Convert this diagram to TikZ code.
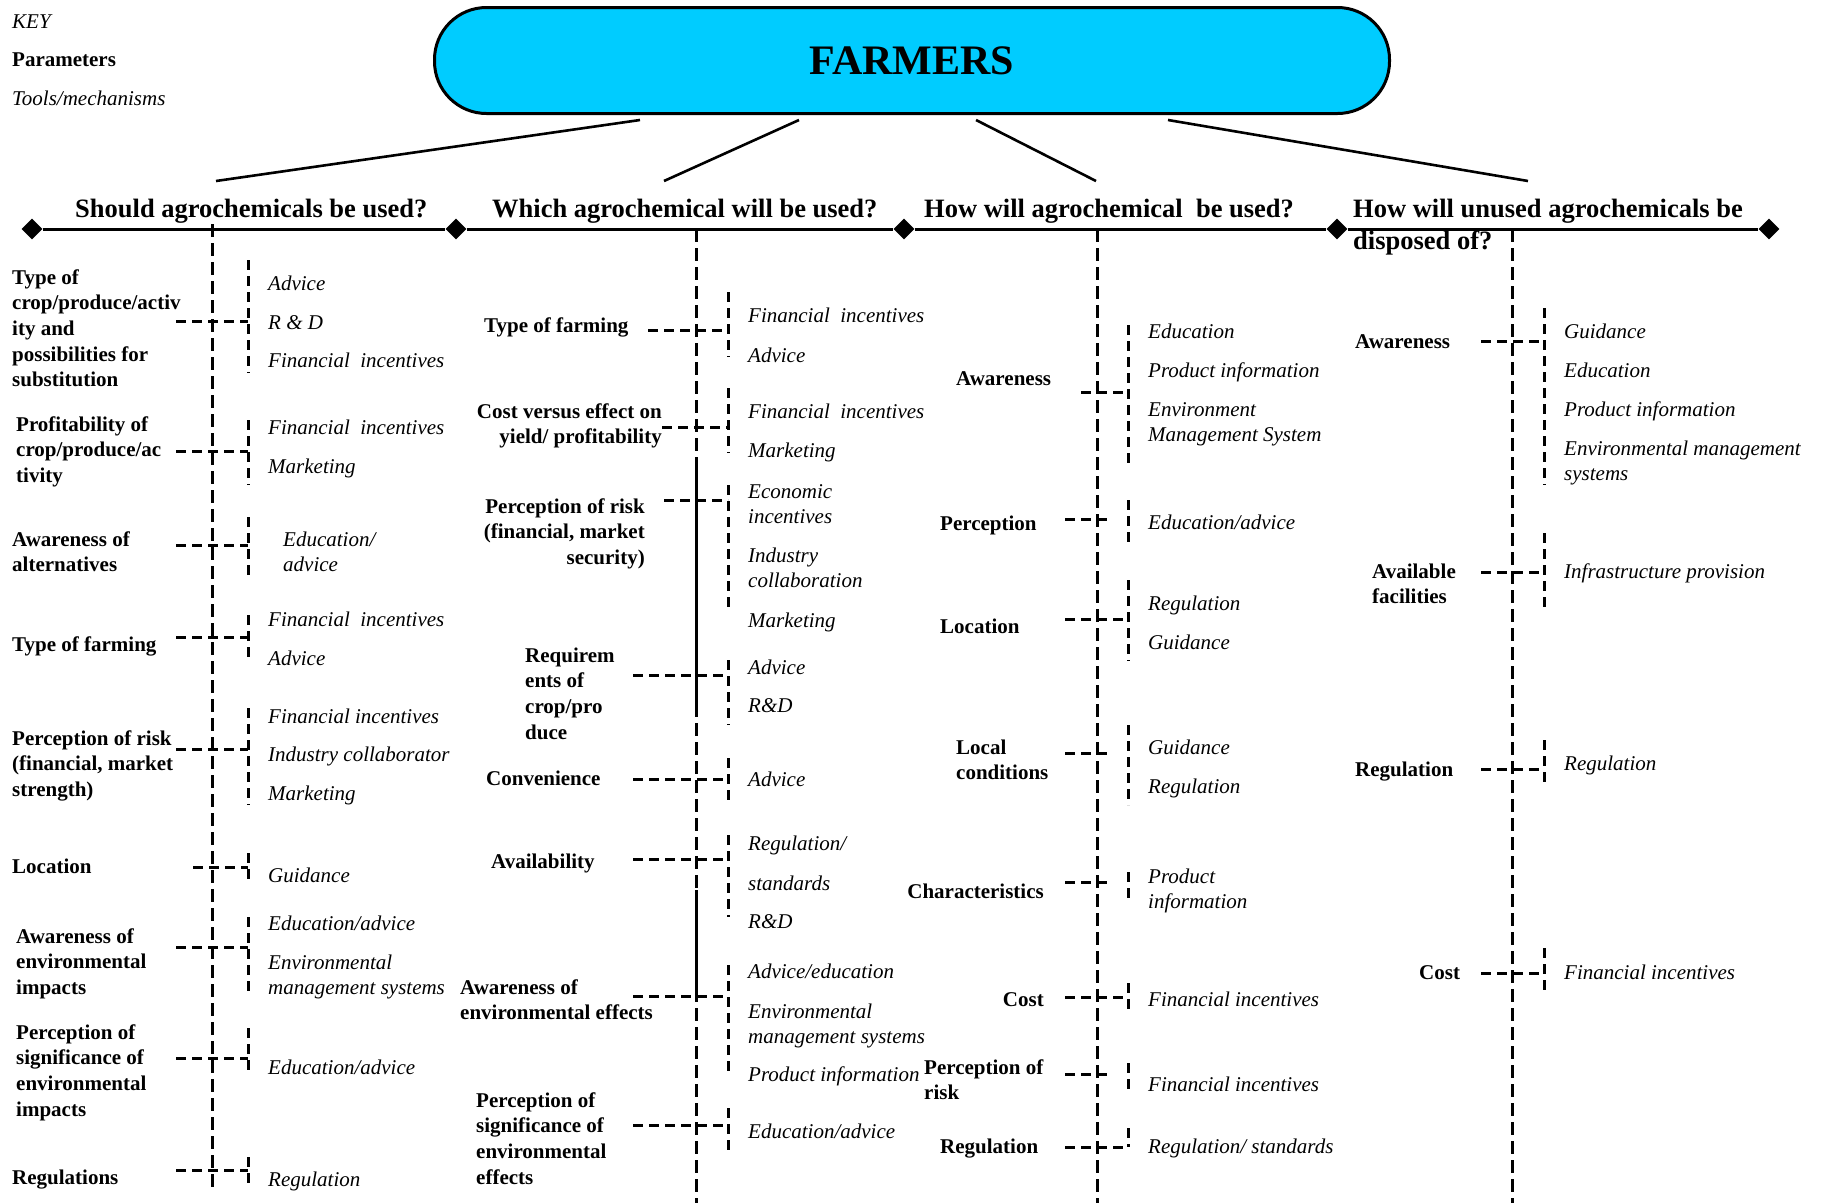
\documentclass[tikz,border=0pt]{standalone}
\usepackage{fontspec}
\setmainfont{Liberation Serif}
\usetikzlibrary{shapes.geometric}
\definecolor{farmcyan}{HTML}{00CCFF}

% stacked lines, baseline on the first line
\newcommand\stackl[1]{\begin{tabular}[t]{@{}l@{}}#1\end{tabular}}
\newcommand\stackr[1]{\begin{tabular}[t]{@{}r@{}}#1\end{tabular}}

% dashed tie: name, x from, x to, y, bracket x, bracket top, bracket bottom
\newcommand\tie[7]{%
  \coordinate (#1-from) at (#2,#4);
  \coordinate (#1-to) at (#3,#4);
  \coordinate (#1-top) at (#5,#6);
  \coordinate (#1-bot) at (#5,#7);
  \draw[link] (#1-from) -- (#1-to);
  \draw[link] (#1-top) -- (#1-bot);
}

\tikzset{
  param/.style={font=\fontsize{21}{25.7}\selectfont\bfseries, inner sep=0pt, anchor=base west},
  paramr/.style={param, anchor=base east},
  tool/.style={font=\fontsize{21}{25.7}\selectfont\itshape, inner sep=0pt, anchor=base west},
  question/.style={font=\fontsize{26.5}{32}\selectfont\bfseries, inner sep=0pt, anchor=base west},
  spine/.style={line width=3pt, dash pattern=on 13pt off 6pt},
  link/.style={line width=3pt, dash pattern=on 10pt off 6pt},
  stem/.style={line width=2.6pt},
  axis/.style={line width=3pt},
  marker/.style={diamond, fill=black, inner sep=0pt, minimum width=21pt, minimum height=21pt},
  farmbox/.style={draw, line width=3pt, fill=farmcyan, rounded corners=52pt,
    minimum width=955pt, minimum height=106pt, font=\fontsize{42}{50}\selectfont\bfseries},
}

\begin{document}
\begin{tikzpicture}[x=1pt, y=-1pt]
\useasboundingbox (0,0) rectangle (1821,1203);

% key
\node[tool]  (keyt) at (12,28)  {KEY};
\node[param] (keyp) at (12,66)  {Parameters};
\node[tool]  (keym) at (12,105) {Tools/mechanisms};

% central box
\node[farmbox] (farmers) at (912,60.5) {FARMERS};

% questions
\node[question] (q1) at (75,217)   {Should agrochemicals be used?};
\node[question] (q2) at (492,217)  {Which agrochemical will be used?};
\node[question] (q3) at (924,217)  {How will agrochemical\ \ be used?};
\node[question] (q4) at (1353,217) {\stackl{How will unused agrochemicals be\\disposed of?}};

% stems from the box to the questions
\coordinate (f1) at (640,120);  \coordinate (g1) at (216,181);
\coordinate (f2) at (799,120);  \coordinate (g2) at (664,181);
\coordinate (f3) at (976,120);  \coordinate (g3) at (1096,181);
\coordinate (f4) at (1168,120); \coordinate (g4) at (1528,181);
\draw[stem] (f1) -- (g1);
\draw[stem] (f2) -- (g2);
\draw[stem] (f3) -- (g3);
\draw[stem] (f4) -- (g4);

% axis with diamonds
\node[marker] (d1) at (32,229) {};
\node[marker] (d2) at (456,229) {};
\node[marker] (d3) at (904,229) {};
\node[marker] (d4) at (1337,229) {};
\node[marker] (d5) at (1769,229) {};
\draw[axis] (d1) -- (d2) -- (d3) -- (d4) -- (d5);

% spines
\coordinate (sA-top) at (212,224);  \coordinate (sA-bot) at (212,1188);
\coordinate (sB-top) at (696,229);  \coordinate (sB-bot) at (696,1203);
\coordinate (sC-top) at (1097,229); \coordinate (sC-bot) at (1097,1203);
\coordinate (sD-top) at (1512,229); \coordinate (sD-bot) at (1512,1203);
\draw[spine] (sA-top) -- (sA-bot);
\draw[spine] (sB-top) -- (sB-bot);
\draw[spine] (sC-top) -- (sC-bot);
\draw[spine] (sD-top) -- (sD-bot);
\coordinate (sB-m1) at (696,465); \coordinate (sB-m2) at (696,715);
\coordinate (sB-m3) at (696,890); \coordinate (sB-m4) at (696,990);
\draw[stem, line width=3pt] (sB-m1) -- (sB-m2);
\draw[stem, line width=3pt] (sB-m3) -- (sB-m4);

% ---- column A: should agrochemicals be used?
\node[param] (pA1) at (12,284) {\stackl{Type of\\crop/produce/activ\\ity and\\possibilities for\\substitution}};
\tie{tA1}{176}{248}{321}{248}{260}{373}
\node[tool] (mA1a) at (268,290) {Advice};
\node[tool] (mA1b) at (268,329) {R \& D};
\node[tool] (mA1c) at (268,367) {Financial\ \ incentives};

\node[param] (pA2) at (16,431) {\stackl{Profitability of\\crop/produce/ac\\tivity}};
\tie{tA2}{176}{248}{451}{248}{420}{485}
\node[tool] (mA2a) at (268,434) {Financial\ \ incentives};
\node[tool] (mA2b) at (268,473) {Marketing};

\node[param] (pA3) at (12,546) {\stackl{Awareness of\\alternatives}};
\tie{tA3}{176}{248}{545}{248}{517}{580}
\node[tool] (mA3a) at (283,546) {\stackl{Education/\\advice}};

\node[param] (pA4) at (12,651) {Type of farming};
\tie{tA4}{176}{248}{637}{248}{615}{658}
\node[tool] (mA4a) at (268,626) {Financial\ \ incentives};
\node[tool] (mA4b) at (268,665) {Advice};

\node[param] (pA5) at (12,745) {\stackl{Perception of risk\\(financial, market\\strength)}};
\tie{tA5}{176}{248}{749}{248}{708}{805}
\node[tool] (mA5a) at (268,723) {Financial incentives};
\node[tool] (mA5b) at (268,761) {Industry collaborator};
\node[tool] (mA5c) at (268,800) {Marketing};

\node[param] (pA6) at (12,873) {Location};
\tie{tA6}{193}{248}{867}{248}{853}{880}
\node[tool] (mA6a) at (268,882) {Guidance};

\node[param] (pA7) at (16,943) {\stackl{Awareness of\\environmental\\impacts}};
\tie{tA7}{176}{248}{947}{248}{917}{997}
\node[tool] (mA7a) at (268,930) {Education/advice};
\node[tool] (mA7b) at (268,969) {\stackl{Environmental\\management systems}};

\node[param] (pA8) at (16,1039) {\stackl{Perception of\\significance of\\environmental\\impacts}};
\tie{tA8}{176}{248}{1058}{248}{1028}{1075}
\node[tool] (mA8a) at (268,1074) {Education/advice};

\node[param] (pA9) at (12,1184) {Regulations};
\tie{tA9}{176}{248}{1170}{248}{1157}{1187}
\node[tool] (mA9a) at (268,1186) {Regulation};

% ---- column B: which agrochemical will be used?
\node[param] (pB1) at (484,332) {Type of farming};
\tie{tB1}{648}{728}{330}{728}{292}{357}
\node[tool] (mB1a) at (748,322) {Financial\ \ incentives};
\node[tool] (mB1b) at (748,362) {Advice};

\node[paramr] (pB2) at (662,418) {\stackr{Cost versus effect on\\yield/ profitability}};
\tie{tB2}{662}{728}{427}{728}{388}{453}
\node[tool] (mB2a) at (748,418) {Financial\ \ incentives};
\node[tool] (mB2b) at (748,457) {Marketing};

\node[paramr] (pB3) at (645,513) {\stackr{Perception of risk\\(financial, market\\security)}};
\tie{tB3}{664}{728}{500}{728}{485}{612}
\node[tool] (mB3a) at (748,498) {\stackl{Economic\\incentives}};
\node[tool] (mB3b) at (748,562) {\stackl{Industry\\collaboration}};
\node[tool] (mB3c) at (748,627) {Marketing};

\node[param] (pB4) at (525,662) {\stackl{Requirem\\ents of\\crop/pro\\duce}};
\tie{tB4}{633}{728}{675}{728}{660}{725}
\node[tool] (mB4a) at (748,674) {Advice};
\node[tool] (mB4b) at (748,712) {R\&D};

\node[param] (pB5) at (486,785) {Convenience};
\tie{tB5}{633}{728}{779}{728}{758}{802}
\node[tool] (mB5a) at (748,786) {Advice};

\node[param] (pB6) at (491,868) {Availability};
\tie{tB6}{633}{728}{859}{728}{835}{917}
\node[tool] (mB6a) at (748,850) {Regulation/};
\node[tool] (mB6b) at (748,890) {standards};
\node[tool] (mB6c) at (748,928) {R\&D};

\node[param] (pB7) at (460,994) {\stackl{Awareness of\\environmental effects}};
\tie{tB7}{633}{728}{996}{728}{965}{1077}
\node[tool] (mB7a) at (748,978) {Advice/education};
\node[tool] (mB7b) at (748,1018) {\stackl{Environmental\\management systems}};
\node[tool] (mB7c) at (748,1081) {Product information};

\node[param] (pB8) at (476,1107) {\stackl{Perception of\\significance of\\environmental\\effects}};
\tie{tB8}{633}{728}{1125}{728}{1108}{1155}
\node[tool] (mB8a) at (748,1138) {Education/advice};

% ---- column C: how will agrochemical be used?
\node[param] (pC1) at (956,385) {Awareness};
\tie{tC1}{1081}{1128}{392}{1128}{325}{468}
\node[tool] (mC1a) at (1148,338) {Education};
\node[tool] (mC1b) at (1148,377) {Product information};
\node[tool] (mC1c) at (1148,416) {\stackl{Environment\\Management System}};

\node[param] (pC2) at (940,530) {Perception};
\tie{tC2}{1065}{1110}{519}{1128}{500}{547}
\node[tool] (mC2a) at (1148,529) {Education/advice};

\node[param] (pC3) at (940,633) {Location};
\tie{tC3}{1065}{1128}{619}{1128}{580}{661}
\node[tool] (mC3a) at (1148,610) {Regulation};
\node[tool] (mC3b) at (1148,649) {Guidance};

\node[param] (pC4) at (956,754) {\stackl{Local\\conditions}};
\tie{tC4}{1065}{1110}{753}{1128}{725}{805}
\node[tool] (mC4a) at (1148,754) {Guidance};
\node[tool] (mC4b) at (1148,793) {Regulation};

\node[paramr] (pC5) at (1044,898) {Characteristics};
\tie{tC5}{1065}{1110}{882}{1128}{872}{900}
\node[tool] (mC5a) at (1148,883) {\stackl{Product\\information}};

\node[paramr] (pC6) at (1044,1006) {Cost};
\tie{tC6}{1065}{1128}{997}{1128}{983}{1012}
\node[tool] (mC6a) at (1148,1006) {Financial incentives};

\node[param] (pC7) at (924,1074) {\stackl{Perception of\\risk}};
\tie{tC7}{1065}{1110}{1074}{1128}{1063}{1092}
\node[tool] (mC7a) at (1148,1091) {Financial incentives};

\node[param] (pC8) at (940,1153) {Regulation};
\tie{tC8}{1065}{1128}{1147}{1128}{1128}{1147}
\node[tool] (mC8a) at (1148,1153) {Regulation/ standards};

% ---- column D: how will unused agrochemicals be disposed of?
\node[param] (pD1) at (1355,348) {Awareness};
\tie{tD1}{1481}{1544}{341}{1544}{308}{485}
\node[tool] (mD1a) at (1564,338) {Guidance};
\node[tool] (mD1b) at (1564,377) {Education};
\node[tool] (mD1c) at (1564,416) {Product information};
\node[tool] (mD1d) at (1564,455) {\stackl{Environmental management\\systems}};

\node[param] (pD2) at (1372,578) {\stackl{Available\\facilities}};
\tie{tD2}{1481}{1544}{572}{1544}{533}{612}
\node[tool] (mD2a) at (1564,578) {Infrastructure provision};

\node[param] (pD3) at (1355,776) {Regulation};
\tie{tD3}{1481}{1544}{769}{1544}{740}{787}
\node[tool] (mD3a) at (1564,770) {Regulation};

\node[param] (pD4) at (1419,979) {Cost};
\tie{tD4}{1481}{1544}{973}{1544}{948}{995}
\node[tool] (mD4a) at (1564,979) {Financial incentives};

\end{tikzpicture}
\end{document}
